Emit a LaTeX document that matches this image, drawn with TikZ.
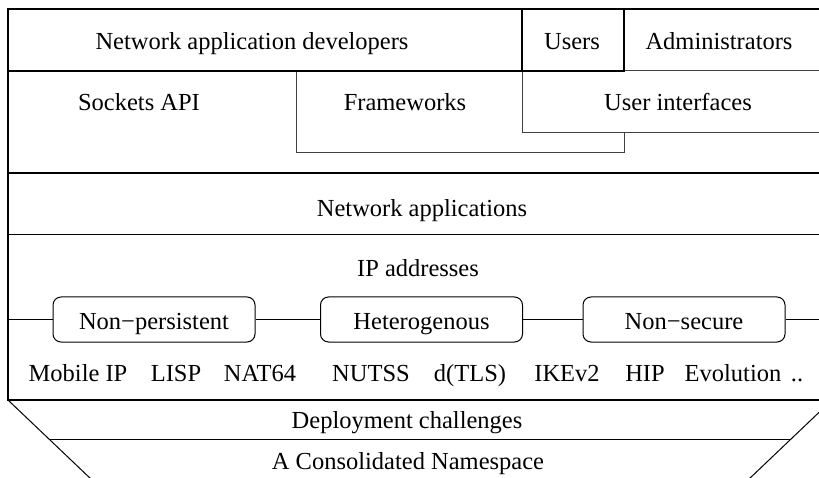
\documentclass[tikz,border=0pt]{standalone}
\usepackage{fontspec}
\setmainfont{Liberation Serif}
\begin{document}
\begin{tikzpicture}[x=1pt,y=-1pt,
  every node/.style={font=\fontsize{24.5}{28}\selectfont, inner sep=0pt},
  lbl/.style={anchor=base},
  heavy/.style={line width=1.5pt},
  light/.style={line width=1pt, draw=black!75},
  tag/.style={draw, rounded corners=8pt, line width=1pt, minimum width=202pt,
              text height=33pt, text depth=12pt, anchor=base},
  link/.style={line width=1pt}]
\useasboundingbox (0,0) rectangle (819,478);
\clip (0,0) rectangle (819,478);

% outer frame and layer separators
\draw[heavy] (832,9) -- (8,9) -- (8,400) -- (832,400);
\draw[heavy] (8,71) -- (832,71);
\draw[heavy] (8,173) -- (832,173);
\draw[link] (8,235) -- (832,235);

% top-row boxes
\draw[light] (296,71) rectangle (624,153);
\draw[light, fill=white] (522,71) rectangle (832,133);
\draw[heavy] (522,9) rectangle (624,71);
\draw[heavy] (8,71) -- (522,71);

% funnel at the bottom
\draw[link] (8,400) -- (92,480);
\draw[link] (832,400) -- (748,480);
\draw[link] (49,439) -- (791,439);

% labels
\node[lbl] (dev) at (252,50) {Network application developers};
\node[lbl] (usr) at (572,50) {Users};
\node[lbl] (adm) at (719,50) {Administrators};
\node[lbl] (sock) at (139,111) {Sockets API};
\node[lbl] (fw) at (405,111) {Frameworks};
\node[lbl] (ui) at (678,111) {User interfaces};
\node[lbl] (napp) at (422,217) {Network applications};
\node[lbl] (ipa) at (418,277) {IP addresses};

% problem tags on the address line
\coordinate (lft) at (8,319.5);
\coordinate (rgt) at (832,319.5);
\node[tag] (np) at (154,330) {Non−persistent};
\node[tag] (het) at (421.5,330) {Heterogenous};
\node[tag] (ns) at (684,330) {Non−secure};
\draw[link] (lft) -- (np.west);
\draw[link] (np.east) -- (het.west);
\draw[link] (het.east) -- (ns.west);
\draw[link] (ns.east) -- (rgt);

% proposed solutions
\node[lbl] (mip) at (78,381) {Mobile IP};
\node[lbl] (lisp) at (176,381) {LISP};
\node[lbl] (nat) at (260,381) {NAT64};
\node[lbl] (nutss) at (371,381) {NUTSS};
\node[lbl] (tls) at (470,381) {d(TLS)};
\node[lbl] (ike) at (567,381) {IKEv2};
\node[lbl] (hip) at (645,381) {HIP};
\node[lbl] (evo) at (733,381) {Evolution};
\node[lbl] (dots) at (797,381) {..};

\node[lbl] (dep) at (407,428) {Deployment challenges};
\node[lbl] (cns) at (408,469) {A Consolidated Namespace};
\end{tikzpicture}
\end{document}
